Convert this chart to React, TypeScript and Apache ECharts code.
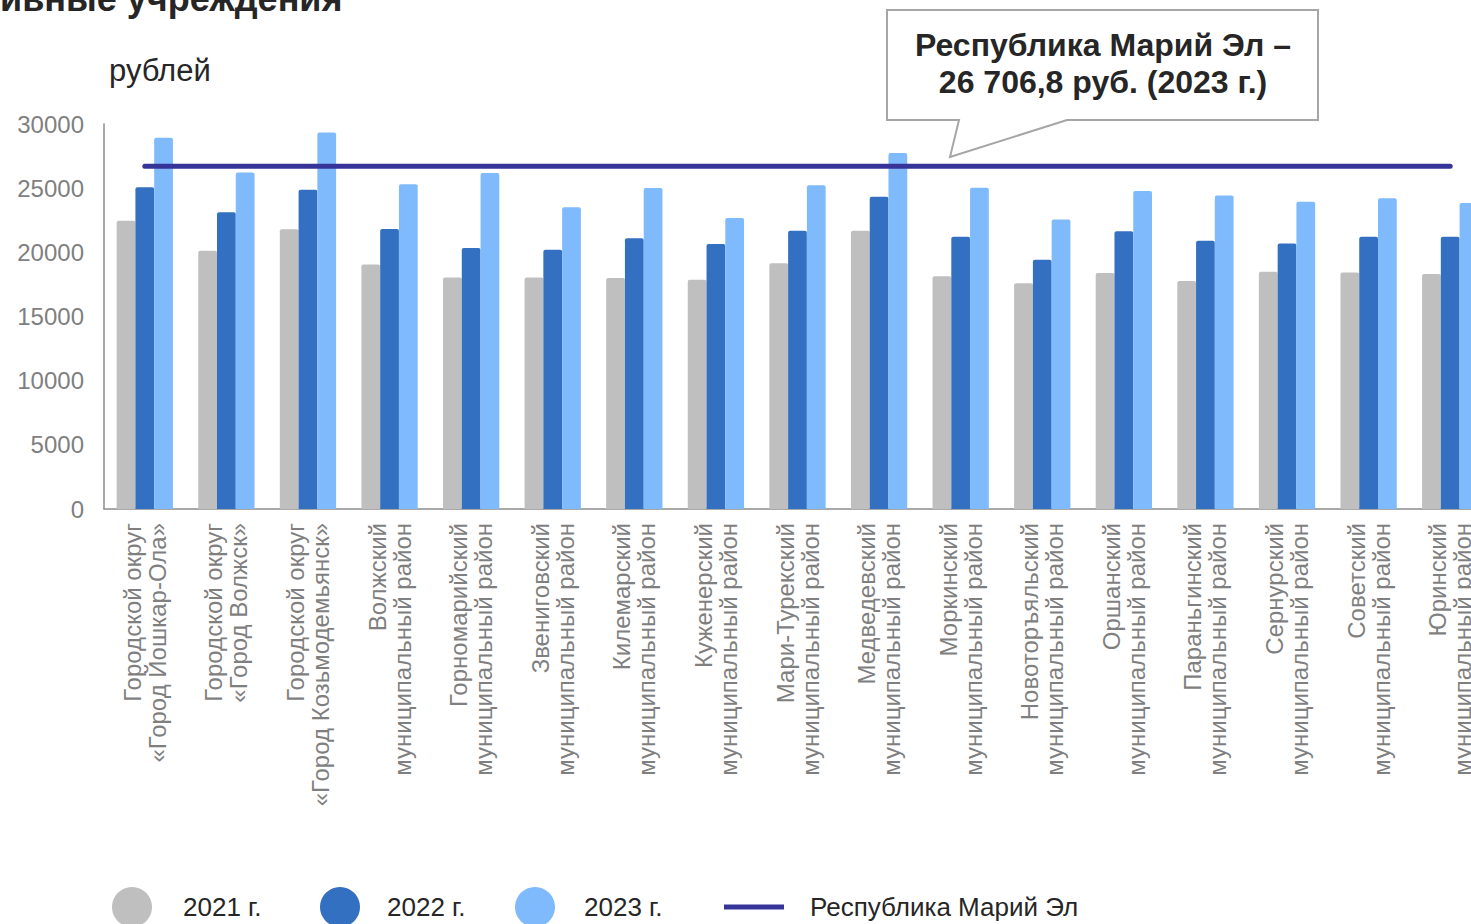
import React, { useEffect, useRef } from "react";
import * as echarts from "echarts";

const categories: string[] = [
  "Городской округ\n«Город Йошкар-Ола»",
  "Городской округ\n«Город Волжск»",
  "Городской округ\n«Город Козьмодемьянск»",
  "Волжский\nмуниципальный район",
  "Горномарийский\nмуниципальный район",
  "Звениговский\nмуниципальный район",
  "Килемарский\nмуниципальный район",
  "Куженерский\nмуниципальный район",
  "Мари-Турекский\nмуниципальный район",
  "Медведевский\nмуниципальный район",
  "Моркинский\nмуниципальный район",
  "Новоторъяльский\nмуниципальный район",
  "Оршанский\nмуниципальный район",
  "Параньгинский\nмуниципальный район",
  "Сернурский\nмуниципальный район",
  "Советский\nмуниципальный район",
  "Юринский\nмуниципальный район",
];

const values2021: number[] = [
  22470, 20130, 21790, 19060, 18030, 18030, 18000, 17870, 19140, 21690, 18130,
  17590, 18390, 17770, 18490, 18420, 18310,
];
const values2022: number[] = [
  25070, 23120, 24880, 21820, 20340, 20210, 21090, 20650, 21690, 24340, 21220,
  19430, 21640, 20910, 20680, 21220, 21220,
];
const values2023: number[] = [
  28930, 26230, 29330, 25300, 26180, 23510, 25010, 22680, 25220, 27740, 25040,
  22550, 24780, 24420, 23950, 24210, 23840,
];
const republicValue = 26706.8;
const republicLine: number[] = categories.map(() => republicValue);

const yTicks = { min: 0, max: 30000, interval: 5000 };

const FONT = '"Liberation Sans", Arial, sans-serif';

export default function App() {
  const ref = useRef<HTMLDivElement>(null);

  useEffect(() => {
    if (!ref.current) return;
    const chart = echarts.init(ref.current, undefined, { renderer: "svg" });

    const legendText = (gap: number) => ({
      fontFamily: FONT,
      fontSize: 26,
      color: "#262626",
      padding: [0, 0, 0, gap],
    });
    const legendBase = {
      orient: "horizontal" as const,
      top: 887,
      padding: 0,
      itemWidth: 40,
      itemHeight: 40,
      selectedMode: false,
    };

    chart.setOption({
      animation: false,
      backgroundColor: "#ffffff",
      textStyle: { fontFamily: FONT },
      grid: { left: 104, top: 124, right: 9, bottom: 415, containLabel: false },
      legend: [
        { ...legendBase, left: 112, textStyle: legendText(26), data: [{ name: "2021 г.", icon: "circle" }] },
        { ...legendBase, left: 320, textStyle: legendText(22), data: [{ name: "2022 г.", icon: "circle" }] },
        { ...legendBase, left: 515, textStyle: legendText(24), data: [{ name: "2023 г.", icon: "circle" }] },
        {
          ...legendBase,
          left: 724,
          top: 894,
          itemWidth: 60,
          itemHeight: 5,
          textStyle: legendText(21),
          data: [{ name: "Республика Марий Эл", icon: "rect" }],
        },
      ],
      xAxis: {
        type: "category",
        data: categories,
        axisLine: { show: true, lineStyle: { color: "#8c8c8c", width: 1.5 } },
        axisTick: { show: false },
        axisLabel: {
          interval: 0,
          rotate: 90,
          margin: 14,
          fontFamily: FONT,
          fontSize: 24,
          lineHeight: 25,
          color: "#7f7f7f",
        },
      },
      yAxis: {
        type: "value",
        min: yTicks.min,
        max: yTicks.max,
        interval: yTicks.interval,
        axisLine: { show: true, lineStyle: { color: "#8c8c8c", width: 1.5 } },
        axisTick: { show: false },
        splitLine: { show: false },
        axisLabel: {
          margin: 20,
          fontFamily: FONT,
          fontSize: 24,
          color: "#7f7f7f",
          formatter: (v: number) => String(v),
        },
      },
      series: [
        {
          name: "2021 г.",
          type: "bar",
          data: values2021,
          barGap: "0%",
          barCategoryGap: "31%",
          color: "#bfbfbf",
          itemStyle: { color: "#bfbfbf", borderRadius: [2, 2, 0, 0] },
        },
        {
          name: "2022 г.",
          type: "bar",
          data: values2022,
          barGap: "0%",
          barCategoryGap: "31%",
          color: "#3470c1",
          itemStyle: { color: "#3470c1", borderRadius: [2, 2, 0, 0] },
        },
        {
          name: "2023 г.",
          type: "bar",
          data: values2023,
          barGap: "0%",
          barCategoryGap: "31%",
          color: "#7fbbfc",
          itemStyle: { color: "#7fbbfc", borderRadius: [2, 2, 0, 0] },
        },
        {
          name: "Республика Марий Эл",
          type: "line",
          data: republicLine,
          symbol: "none",
          color: "#373499",
          lineStyle: { color: "#373499", width: 5, cap: "round" },
          z: 5,
        },
      ],
      graphic: [
        {
          type: "text",
          x: 0,
          y: -1.5,
          style: {
            text: "ивные учреждения",
            fontFamily: FONT,
            fontSize: 36,
            fontWeight: "bold",
            fill: "#262626",
            align: "left",
            verticalAlign: "middle",
          },
        },
        {
          type: "text",
          x: 109,
          y: 70,
          style: {
            text: "рублей",
            fontFamily: FONT,
            fontSize: 31,
            fill: "#262626",
            align: "left",
            verticalAlign: "middle",
          },
        },
        {
          type: "polygon",
          shape: {
            points: [
              [887, 10],
              [1318, 10],
              [1318, 120],
              [1067, 120],
              [950, 157],
              [959, 120],
              [887, 120],
            ],
          },
          style: { fill: "#ffffff", stroke: "#a6a6a6", lineWidth: 2 },
          z: 10,
        },
        {
          type: "text",
          x: 1103,
          y: 63,
          z: 11,
          style: {
            text: "Республика Марий Эл –\n26 706,8 руб. (2023 г.)",
            fontFamily: FONT,
            fontSize: 32,
            fontWeight: "bold",
            lineHeight: 37,
            fill: "#262626",
            align: "center",
            verticalAlign: "middle",
          },
        },
      ],
    });

    return () => chart.dispose();
  }, []);

  return (
    <div
      style={{
        position: "absolute",
        left: 0,
        top: 0,
        width: 1471,
        height: 924,
        overflow: "hidden",
        background: "#fff",
      }}
    >
      <div ref={ref} style={{ width: 1500, height: 924 }} />
    </div>
  );
}
